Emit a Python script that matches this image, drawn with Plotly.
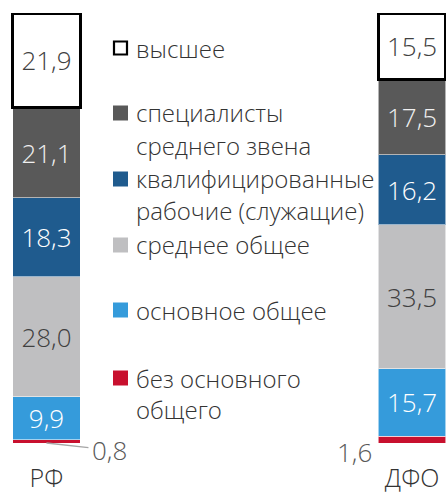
import plotly.graph_objects as go

# ---- data ----
regions = ["РФ", "ДФО"]
categories = ["без основного общего", "основное общее", "среднее общее",
              "квалифицированные рабочие (служащие)", "специалисты среднего звена", "высшее"]
values = {
    "без основного общего": [0.8, 1.6],
    "основное общее": [9.9, 15.7],
    "среднее общее": [28.0, 33.5],
    "квалифицированные рабочие (служащие)": [18.3, 16.2],
    "специалисты среднего звена": [21.1, 17.5],
    "высшее": [21.9, 15.5],
}
legend_lines = {
    "высшее": ["высшее"],
    "специалисты среднего звена": ["специалисты", "среднего звена"],
    "квалифицированные рабочие (служащие)": ["квалифицированные", "рабочие (служащие)"],
    "среднее общее": ["среднее общее"],
    "основное общее": ["основное общее"],
    "без основного общего": ["без основного", "общего"],
}

# ---- styles ----
W, H = 446, 494
TOP, BOT = 13, 443
FONT = "Open Sans"
colors = {
    "без основного общего": "#C8102E",
    "основное общее": "#359BDB",
    "среднее общее": "#BFBFC1",
    "квалифицированные рабочие (служащие)": "#1F5B8E",
    "специалисты среднего звена": "#595959",
    "высшее": "#FFFFFF",
}
text_colors = {
    "без основного общего": "#FFFFFF",
    "основное общее": "#FFFFFF",
    "среднее общее": "#404040",
    "квалифицированные рабочие (служащие)": "#FFFFFF",
    "специалисты среднего звена": "#F0F0F0",
    "высшее": "#404040",
}
fmt = lambda v: f"{v:.1f}".replace(".", ",")

xpos = list(range(len(regions)))
fig = go.Figure()
for cat in categories:
    vals = values[cat]
    is_top = cat == "высшее"
    show_text = cat != "без основного общего"
    fig.add_trace(go.Bar(
        x=xpos, y=vals, width=0.1855,
        marker=dict(color=colors[cat],
                    line=dict(color="#000000" if is_top else "rgba(255,255,255,0.55)",
                              width=3.2 if is_top else 1)),
        text=[fmt(v) for v in vals] if show_text else None,
        textposition="inside" if show_text else "none",
        insidetextanchor="middle",
        textangle=0,
        textfont=dict(family=FONT, size=26, color=text_colors[cat], weight=300),
        showlegend=False, hoverinfo="skip",
    ))

def px_x(p):
    return p / W
def px_y(p):
    return (BOT - p) / (BOT - TOP)

# small outside labels
fig.add_annotation(x=0, y=0, xref="x", yref="y", text=fmt(values["без основного общего"][0]),
                   showarrow=True, arrowhead=0, arrowwidth=1.3, arrowcolor="#A6A6A6",
                   ax=63, ay=7, standoff=0, startstandoff=2,
                   font=dict(family=FONT, size=26, color="#595959", weight=300))
fig.add_annotation(x=1, y=0, xref="x", yref="y", text=fmt(values["без основного общего"][1]),
                   showarrow=False, xshift=-58, yshift=-9, xanchor="center", yanchor="middle",
                   font=dict(family=FONT, size=26, color="#595959", weight=300))

# legend (drawn manually to match layout)
legend_y = {
    "высшее": [48],
    "специалисты среднего звена": [113, 145],
    "квалифицированные рабочие (служащие)": [179, 211],
    "среднее общее": [245],
    "основное общее": [310],
    "без основного общего": [378, 409],
}
for cat, lines in legend_lines.items():
    ys = legend_y[cat]
    y0 = ys[0]
    if cat == "высшее":
        fig.add_shape(type="rect", xref="paper", yref="paper",
                      x0=px_x(114), x1=px_x(127), y0=px_y(y0 + 6.5), y1=px_y(y0 - 6.5),
                      fillcolor="#FFFFFF", line=dict(color="#000000", width=2.2))
    else:
        fig.add_shape(type="rect", xref="paper", yref="paper",
                      x0=px_x(113), x1=px_x(128), y0=px_y(y0 + 7.5), y1=px_y(y0 - 7.5),
                      fillcolor=colors[cat], line=dict(width=0))
    for line, yy in zip(lines, ys):
        fig.add_annotation(x=px_x(134), y=px_y(yy), xref="paper", yref="paper",
                           text=line, showarrow=False, xanchor="left", yanchor="middle",
                           font=dict(family=FONT, size=24, color="#333333", weight=300))

fig.update_layout(
    barmode="stack",
    width=W, height=H,
    margin=dict(l=0, r=0, t=TOP, b=H - BOT, pad=0, autoexpand=False),
    paper_bgcolor="white", plot_bgcolor="white",
    xaxis=dict(range=[-0.127, 1.0928], tickvals=xpos, ticktext=regions,
               showgrid=False, zeroline=False, showline=False, ticks="",
               tickfont=dict(family=FONT, size=25, color="#333333", weight=300),
               ticklabelstandoff=18, fixedrange=True, automargin=False),
    yaxis=dict(range=[0, 100], visible=False, fixedrange=True, automargin=False),
    uniformtext=dict(minsize=10, mode="show"),
    font=dict(family=FONT),
)
fig.write_html("out.html", config={"displayModeBar": False},
               post_script="document.body.style.margin='0';document.body.style.overflow='hidden';")
